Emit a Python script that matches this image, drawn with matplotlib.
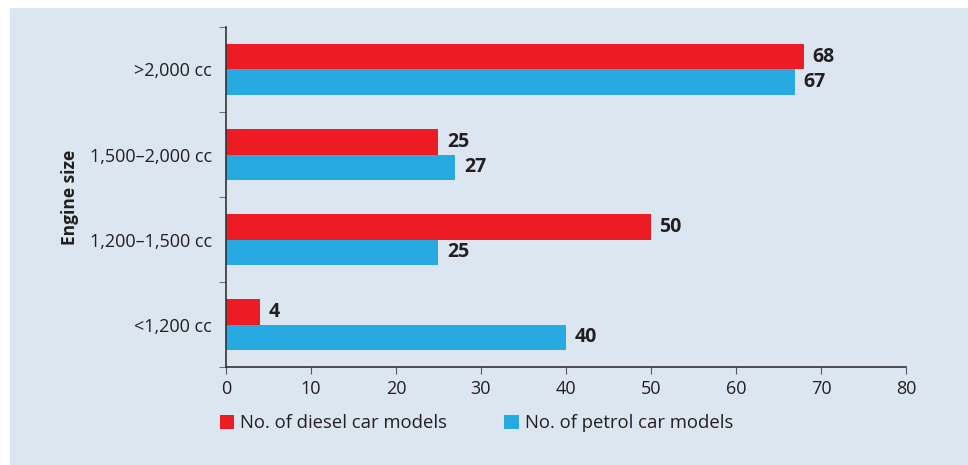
import numpy as np
import matplotlib
matplotlib.use("Agg")
import matplotlib.pyplot as plt
from matplotlib.patches import Rectangle
from matplotlib.ticker import FixedLocator

categories = ["<1,200 cc", "1,200\u20131,500 cc", "1,500\u20132,000 cc", ">2,000 cc"]
diesel = [4, 50, 25, 68]
petrol = [40, 25, 27, 67]
series_names = ["No. of diesel car models", "No. of petrol car models"]

red = "#ED1C24"
blue = "#27A9E1"
bg = "#DCE6F0"
txt = "#231F20"

plt.rcParams["font.family"] = ["Open Sans", "DejaVu Sans"]

fig = plt.figure(figsize=(9.68, 4.65), dpi=100)
fig.patches.append(Rectangle((10 / 968, 0), 1, 1 - 8 / 465, transform=fig.transFigure,
                             facecolor=bg, edgecolor="none", zorder=-10))
ax = fig.add_axes([226 / 968, 1 - 367 / 465, 680 / 968, 340 / 465])
ax.set_facecolor("none")
ax.set_zorder(1)

ypos = np.arange(len(categories))
h = 0.3
b1 = ax.barh(ypos + h / 2, diesel, height=h, color=red, label=series_names[0])
b2 = ax.barh(ypos - h / 2, petrol, height=h, color=blue, label=series_names[1])

for bars, vals in ((b1, diesel), (b2, petrol)):
    for rect, v in zip(bars, vals):
        ax.annotate(str(v), (rect.get_width(), rect.get_y() + rect.get_height() / 2),
                    xytext=(6, 0), textcoords="offset points", va="center", ha="left",
                    fontsize=14, fontweight="bold", color=txt)

ax.set_xlim(0, 80)
ax.set_ylim(-0.5, len(categories) - 0.5)
ax.set_xticks(np.arange(0, 81, 10))
ax.set_yticks(ypos)
ax.set_yticklabels(categories)
ax.yaxis.set_minor_locator(FixedLocator(np.arange(-0.5, len(categories), 1)))
ax.tick_params(axis="y", which="major", length=0, pad=10, labelsize=13, labelcolor=txt)
ax.tick_params(axis="y", which="minor", length=5, color="#555555")
ax.tick_params(axis="x", length=5, color="#555555", labelsize=13, labelcolor=txt, pad=4)
for s in ("top", "right"):
    ax.spines[s].set_visible(False)
for s in ("left", "bottom"):
    ax.spines[s].set_color("#333333")
    ax.spines[s].set_linewidth(1.2)

fig.text(70 / 968, 1 - 197 / 465, "Engine size", rotation=90, ha="center", va="center",
         fontsize=12.5, fontweight="bold", color=txt)

leg = fig.legend(handles=[b1, b2], loc="center left", bbox_to_anchor=(203 / 968, 1 - 423 / 465),
                 ncol=2, frameon=False, fontsize=13.3, handlelength=0.8, handleheight=0.8,
                 handletextpad=0.3, columnspacing=3.1, labelcolor=txt)

fig.savefig("out.png", dpi=100)
